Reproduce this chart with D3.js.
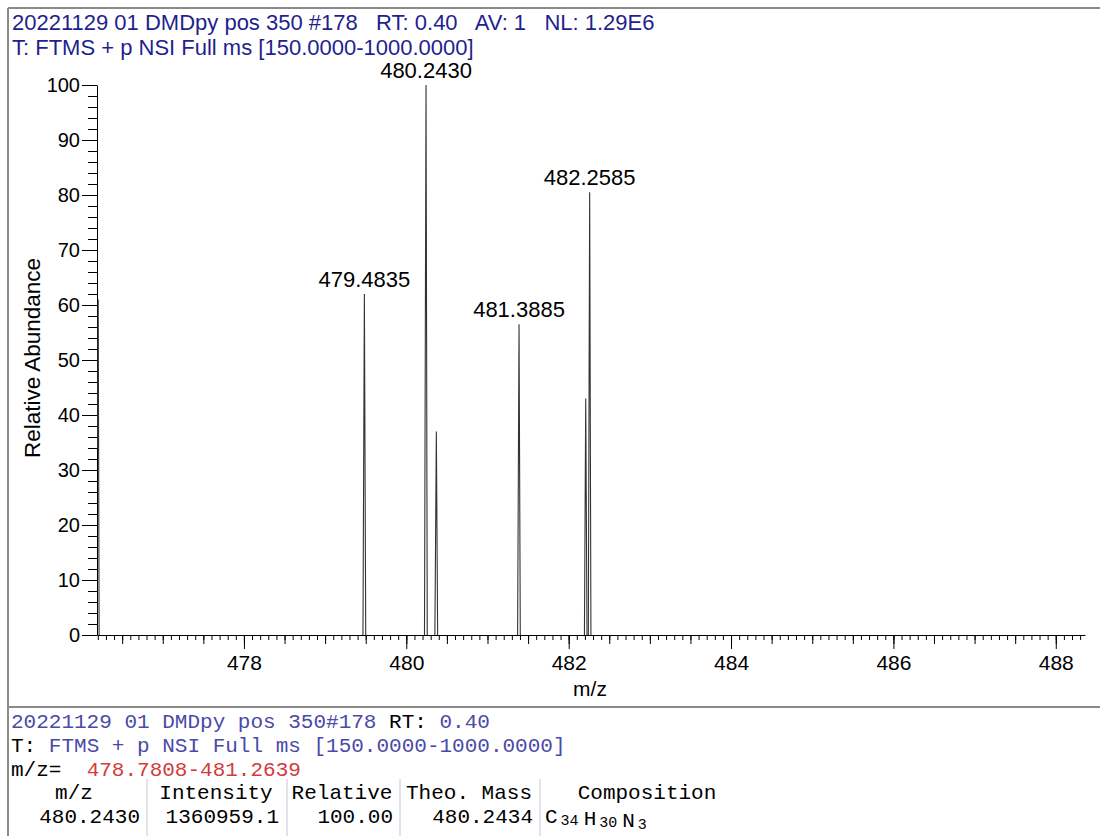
<!DOCTYPE html>
<html>
<head>
<meta charset="utf-8">
<script src="https://d3js.org/d3.v7.min.js"></script>
<style>
  body { margin:0; background:#fff; }
  svg text { font-family: "Liberation Sans", Arial, sans-serif; }
  .mono text, text.mono { font-family: "Liberation Mono", "Courier New", monospace; }
  .axis .domain { stroke:#000; }
  .axis line { stroke:#000; }
</style>
</head>
<body>
<script>
// ---- data ----
var headerLines = ["20221129 01 DMDpy pos 350 #178   RT: 0.40   AV: 1   NL: 1.29E6",
                   "T: FTMS + p NSI Full ms [150.0000-1000.0000]"];
var xDomain = [476.19, 488.36];
var xMajor = [478, 480, 482, 484, 486, 488];
var yMajor = [0, 10, 20, 30, 40, 50, 60, 70, 80, 90, 100];

// profile points of each peak: [m/z, relative abundance]
var peaks = [
  [[476.196, 34], [476.205, 61], [476.216, 0]],
  [[479.466, 0], [479.4835, 62], [479.500, 0]],
  [[480.224, 0], [480.236, 64], [480.2430, 100], [480.258, 0]],
  [[480.352, 0], [480.370, 37], [480.386, 0]],
  [[481.371, 0], [481.3885, 56.5], [481.404, 0]],
  [[482.194, 0], [482.210, 43], [482.226, 0]],
  [[482.242, 0], [482.2585, 80.5], [482.274, 0]]
];
var labelMz = [479.4835, 480.2430, 481.3885, 482.2585];
var labelRel = [62, 100, 56.5, 80.5];

var info1 = [["20221129 01 DMDpy pos 350#178 ", "#4a4aa8"], ["RT:", "#000"], [" 0.40", "#4a4aa8"]];
var info2 = [["T:", "#000"], [" FTMS + p NSI Full ms [150.0000-1000.0000]", "#4a4aa8"]];
var info3 = [["m/z=", "#000"], ["  478.7808-481.2639", "#d23c3c"]];
var tableHeaders = ["m/z", "Intensity", "Relative", "Theo. Mass", "Composition"];
var tableRow = ["480.2430", "1360959.1", "100.00", "480.2434"];
var composition = [["C", "34"], ["H", "30"], ["N", "3"]];

// ---- drawing ----
var width = 1100, height = 836;
var svg = d3.select("body").append("svg").attr("width", width).attr("height", height);

var x = d3.scaleLinear().domain(xDomain).range([97, 1085]);
var y = d3.scaleLinear().domain([0, 100]).range([635, 85]);

// frame
svg.append("line").attr("x1", 8).attr("x2", width).attr("y1", 8).attr("y2", 8).attr("stroke", "#8a8a8a").attr("stroke-width", 2);
svg.append("line").attr("x1", 8).attr("x2", 8).attr("y1", 8).attr("y2", height).attr("stroke", "#8a8a8a").attr("stroke-width", 2);
svg.append("line").attr("x1", 8).attr("x2", width).attr("y1", 707).attr("y2", 707).attr("stroke", "#8a8a8a").attr("stroke-width", 2);

// header
svg.selectAll(".hdr").data(headerLines).enter().append("text")
  .attr("class", "hdr")
  .attr("x", 12).attr("y", function(d, i) { return 30 + i * 25; })
  .attr("fill", "#1f1f8f").style("font-size", "22px").style("white-space", "pre")
  .text(function(d) { return d; });

// minor / medium x ticks
var xMinor = d3.range(476.2, 488.36, 0.1).map(function(v) { return Math.round(v * 10) / 10; });
var xMed = xMinor.filter(function(v) { return Math.abs(v * 2 - Math.round(v * 2)) < 1e-6; });
svg.append("g").attr("class", "axis").attr("transform", "translate(0,635)")
  .call(d3.axisBottom(x).tickValues(xMinor).tickSize(5).tickFormat(""))
  .select(".domain").remove();
svg.append("g").attr("class", "axis").attr("transform", "translate(0,635)")
  .call(d3.axisBottom(x).tickValues(xMed).tickSize(9).tickFormat(""))
  .select(".domain").remove();
var xAxis = svg.append("g").attr("class", "axis").attr("transform", "translate(0,635)")
  .call(d3.axisBottom(x).tickValues(xMajor).tickSize(14).tickSizeOuter(0).tickPadding(6).tickFormat(d3.format("d")));
xAxis.selectAll("text").style("font-size", "21px").attr("fill", "#000");

// y ticks
var yMinor = d3.range(0, 101, 2);
svg.append("g").attr("class", "axis").attr("transform", "translate(97,0)")
  .call(d3.axisLeft(y).tickValues(yMinor).tickSize(9).tickFormat(""))
  .select(".domain").remove();
var yAxis = svg.append("g").attr("class", "axis").attr("transform", "translate(97,0)")
  .call(d3.axisLeft(y).tickValues(yMajor).tickSize(15).tickSizeOuter(0).tickPadding(2));
yAxis.selectAll("text").style("font-size", "20px").attr("fill", "#000");

// axis titles
svg.append("text").attr("x", 590).attr("y", 696).attr("text-anchor", "middle")
  .style("font-size", "21px").text("m/z");
svg.append("text").attr("transform", "translate(40,358) rotate(-90)").attr("text-anchor", "middle")
  .style("font-size", "22.5px").text("Relative Abundance");

// peaks
svg.append("clipPath").attr("id", "plotClip").append("rect")
  .attr("x", 97).attr("y", 60).attr("width", 990).attr("height", 576);
var line = d3.line().x(function(d) { return x(d[0]); }).y(function(d) { return y(d[1]); });
svg.append("g").attr("clip-path", "url(#plotClip)")
  .selectAll("path").data(peaks).enter().append("path")
  .attr("d", line).attr("fill", "none").attr("stroke", "#333").attr("stroke-width", 1.1);

svg.selectAll(".plab").data(labelMz).enter().append("text")
  .attr("class", "plab")
  .attr("x", function(d) { return x(d); })
  .attr("y", function(d, i) { return y(labelRel[i]) - 7; })
  .attr("text-anchor", "middle").style("font-size", "22px")
  .text(function(d) { return d.toFixed(4); });

// bottom info panel
var mono = svg.append("g").attr("class", "mono").style("font-size", "21px");
[info1, info2, info3].forEach(function(segs, i) {
  var t = mono.append("text").attr("x", 11).attr("y", 728 + i * 24).style("white-space", "pre");
  t.selectAll("tspan").data(segs).enter().append("tspan")
    .attr("fill", function(d) { return d[1]; }).text(function(d) { return d[0]; });
});

var colCenters = [74, 216, 342, 469, 647];
var colRight = [140, 279, 393, 533];
var seps = [147, 287, 400, 540];
mono.selectAll(".sep").data(seps).enter().append("line")
  .attr("x1", function(d) { return d; }).attr("x2", function(d) { return d; })
  .attr("y1", 779).attr("y2", height).attr("stroke", "#c6c6d6").attr("stroke-width", 1);
mono.selectAll(".th").data(tableHeaders).enter().append("text")
  .attr("x", function(d, i) { return colCenters[i]; }).attr("y", 799)
  .attr("text-anchor", "middle").attr("fill", "#000").text(function(d) { return d; });
mono.selectAll(".td").data(tableRow).enter().append("text")
  .attr("x", function(d, i) { return colRight[i]; }).attr("y", 823)
  .attr("text-anchor", "end").attr("fill", "#000").text(function(d) { return d; });
var comp = mono.append("text").attr("x", 545).attr("y", 823).attr("fill", "#000");
composition.forEach(function(c, i) {
  comp.append("tspan").attr("dx", i ? 5 : 0).text(c[0]);
  comp.append("tspan").attr("dx", 3).attr("dy", 2).style("font-size", "15px").text(c[1]);
  comp.append("tspan").attr("dy", -2).text("");
});
</script>
</body>
</html>
